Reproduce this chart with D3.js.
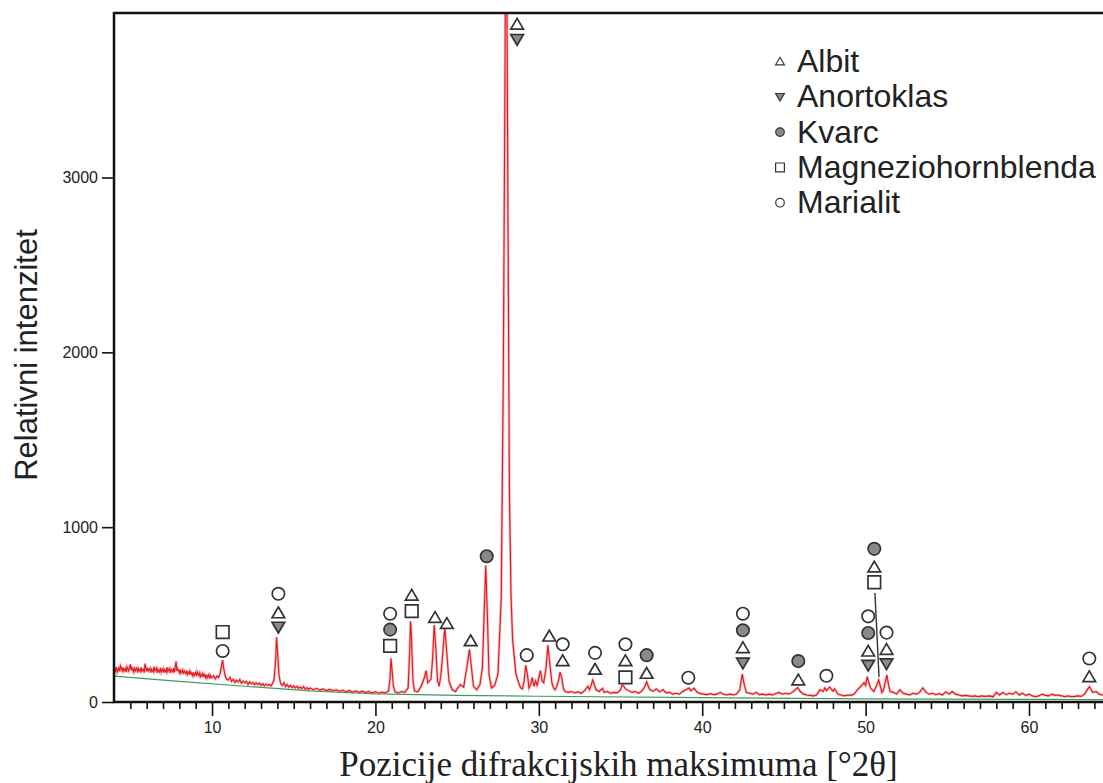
<!DOCTYPE html>
<html><head><meta charset="utf-8">
<script src="https://cdn.jsdelivr.net/npm/d3@7"></script>
<style>body{margin:0;background:#fff}svg{display:block}</style>
</head><body><svg id="c" width="1103" height="783"></svg>
<script>
// ---- data ----
const pattern = [
[4.0,165],[4.05,190],[4.1,178],[4.15,200],[4.2,172],[4.3,195],[4.35,175],[4.4,205],[4.5,180],[4.55,198],[4.6,176],[4.7,192],[4.75,170],[4.8,200],[4.9,178],
[5.0,215],[5.05,182],[5.1,196],[5.2,172],[5.25,200],[5.3,178],[5.4,194],[5.45,168],[5.5,190],[5.6,175],[5.65,198],[5.7,176],[5.8,188],[5.85,168],[5.9,220],
[6.0,175],[6.05,195],[6.1,178],[6.2,192],[6.25,168],[6.3,188],[6.4,172],[6.45,202],[6.5,178],[6.6,194],[6.65,166],[6.7,186],[6.8,170],[6.85,196],[6.9,172],
[7.0,190],[7.05,168],[7.1,185],[7.2,170],[7.25,198],[7.3,175],[7.4,192],[7.45,166],[7.5,185],[7.6,172],[7.65,194],[7.7,170],[7.8,232],[7.85,178],[7.9,190],
[8.0,168],[8.05,186],[8.1,165],[8.2,182],[8.25,160],[8.3,178],[8.4,162],[8.45,180],[8.5,158],[8.6,176],[8.65,155],[8.7,172],[8.8,152],[8.85,170],[8.9,150],
[9.0,168],[9.05,148],[9.1,172],[9.2,150],[9.25,165],[9.3,145],[9.4,162],[9.45,142],[9.5,160],[9.6,140],[9.65,158],[9.7,138],[9.8,156],[9.85,134],[9.9,152],
[10.0,138],[10.1,150],[10.2,132],[10.3,148],[10.4,140],[10.5,165],[10.6,215],[10.65,240],[10.7,200],[10.8,150],
[10.9,130],[11.0,125],[11.1,140],[11.2,118],[11.3,130],[11.4,112],[11.5,125],[11.6,115],[11.7,128],[11.8,108],
[11.9,120],[12.0,110],[12.1,118],[12.2,100],[12.3,115],[12.4,105],[12.5,112],[12.6,98],[12.7,110],[12.8,100],
[12.9,108],[13.0,95],[13.1,105],[13.2,92],[13.3,102],[13.4,95],[13.5,100],[13.6,92],[13.7,105],[13.8,130],
[13.9,250],[13.95,370],[14.0,300],[14.1,150],[14.2,105],[14.3,95],[14.4,110],[14.5,88],[14.6,100],[14.7,85],
[14.8,95],[14.9,82],[15.0,92],[15.1,80],[15.2,90],[15.3,78],[15.4,86],[15.5,76],[15.6,88],[15.7,74],
[15.8,82],[15.9,72],[16.0,80],[16.2,70],[16.4,78],[16.6,68],[16.8,75],[17.0,65],[17.2,72],[17.4,63],
[17.6,70],[17.8,60],[18.0,68],[18.2,58],[18.4,66],[18.6,56],[18.8,64],[19.0,55],[19.2,62],[19.4,54],
[19.6,60],[19.8,52],[20.0,58],[20.2,50],[20.4,56],[20.6,52],[20.8,62],[20.9,140],[20.95,250],[21.0,200],
[21.1,90],[21.2,58],[21.4,52],[21.6,60],[21.8,55],[22.0,80],[22.1,300],[22.15,462],[22.2,380],[22.3,120],
[22.4,62],[22.6,58],[22.8,90],[23.0,140],[23.1,180],[23.2,110],[23.4,130],[23.5,250],[23.6,440],[23.7,300],
[23.8,120],[23.9,90],[24.0,150],[24.1,250],[24.2,380],[24.25,420],[24.35,300],[24.5,120],[24.7,70],[24.9,60],
[25.0,75],[25.2,100],[25.4,85],[25.6,200],[25.75,300],[25.85,220],[26.0,90],[26.2,70],[26.4,100],[26.55,200],
[26.65,500],[26.75,780],[26.85,500],[26.95,160],[27.1,80],[27.3,95],[27.5,160],[27.7,600],[27.82,1800],[27.92,3400],[27.97,4400],
[28.03,4400],[28.1,3000],[28.2,1200],[28.3,600],[28.4,350],[28.6,160],[28.8,100],[28.9,80],[29.0,75],[29.1,120],[29.2,210],
[29.3,160],[29.4,80],[29.5,100],[29.6,140],[29.7,90],[29.8,120],[29.9,95],[30.0,140],[30.1,180],[30.2,120],
[30.3,110],[30.45,200],[30.55,325],[30.65,240],[30.8,110],[30.9,80],[31.0,70],[31.1,90],[31.2,120],[31.3,170],
[31.4,140],[31.5,80],[31.6,60],[31.8,55],[32.0,60],[32.2,52],[32.4,58],[32.6,50],[32.8,65],[33.0,90],
[33.1,70],[33.2,95],[33.3,125],[33.4,100],[33.5,70],[33.7,60],[33.9,78],[34.0,55],[34.2,60],[34.4,50],
[34.6,55],[34.8,52],[35.0,70],[35.1,97],[35.2,90],[35.3,75],[35.5,65],[35.7,55],[35.9,60],[36.1,50],
[36.3,62],[36.5,90],[36.6,115],[36.7,90],[36.8,70],[37.0,62],[37.2,75],[37.4,58],[37.6,70],[37.8,52],
[38.0,55],[38.2,45],[38.4,50],[38.6,45],[38.8,60],[39.0,70],[39.2,80],[39.3,65],[39.5,78],[39.7,55],
[39.9,48],[40.1,45],[40.3,42],[40.5,48],[40.7,42],[40.9,45],[41.1,55],[41.3,45],[41.5,40],[41.7,45],
[41.9,40],[42.1,45],[42.3,70],[42.45,160],[42.55,110],[42.7,55],[42.9,50],[43.1,45],[43.3,55],[43.5,42],
[43.7,45],[43.9,40],[44.1,45],[44.3,40],[44.5,48],[44.7,55],[44.9,45],[45.1,50],[45.3,45],[45.5,55],
[45.7,70],[45.85,82],[46.0,60],[46.2,45],[46.4,40],[46.6,38],[46.8,35],[47.0,40],[47.2,70],[47.4,60],
[47.5,80],[47.6,65],[47.8,85],[48.0,62],[48.1,75],[48.3,45],[48.5,40],[48.7,35],[48.9,40],[49.1,38],
[49.3,45],[49.5,70],[49.7,90],[49.9,110],[50.0,95],[50.1,145],[50.2,110],[50.3,80],[50.5,60],[50.7,100],
[50.8,125],[50.9,90],[51.0,55],[51.1,70],[51.3,155],[51.4,100],[51.5,60],[51.7,55],[51.9,45],[52.1,70],
[52.3,50],[52.5,45],[52.7,40],[52.9,50],[53.1,45],[53.3,55],[53.5,80],[53.7,55],[53.9,45],[54.1,50],
[54.3,42],[54.5,48],[54.7,40],[54.9,58],[55.1,45],[55.3,60],[55.5,45],[55.7,40],[55.9,35],[56.1,38],
[56.3,35],[56.5,32],[56.7,35],[56.9,30],[57.1,35],[57.3,32],[57.6,35],[57.8,30],[58.0,55],[58.2,40],
[58.4,55],[58.6,42],[58.8,50],[59.0,45],[59.2,58],[59.4,40],[59.6,50],[59.8,38],[60.0,45],[60.2,35],
[60.4,30],[60.6,35],[60.8,45],[61.0,38],[61.2,35],[61.4,45],[61.6,38],[61.8,40],[62.0,35],[62.2,30],
[62.4,35],[62.6,30],[62.8,32],[63.0,35],[63.2,32],[63.4,45],[63.6,75],[63.7,87],[63.8,70],[63.9,55],
[64.1,60],[64.3,45],[64.5,40],[64.7,38],[65.0,35]
];
const background = [[4,148],[8,118],[12,90],[16,64],[20,47],[25,38],[30,33],[40,25],[50,18],[60,15],[65,14]];

const albit = [[14.06,509],[22.22,610],[23.65,483],[24.37,448],[25.83,349],[28.67,3876],[30.64,376],[31.46,235],[33.44,186],[35.3,235],[36.6,163],[42.49,310],[45.88,125],[50.16,290],[50.53,771],[51.28,300],[63.69,144]];
const anortoklas = [[14.06,429],[28.67,3791],[42.49,224],[50.16,211],[51.28,220]];
const kvarc = [[20.9,414],[26.81,834],[36.6,268],[42.49,410],[45.88,234],[50.16,395],[50.53,876]];
const magneziohornblenda = [[10.65,400],[20.9,321],[22.22,520],[35.3,141],[50.53,685]];
const marialit = [[10.65,292],[14.06,619],[20.9,505],[29.26,268],[31.46,330],[33.44,281],[35.3,330],[39.15,139],[42.49,505],[47.6,150],[50.16,490],[51.28,397],[63.69,249]];
const leader = [[50.57,623],[50.82,144]];

const legendNames = ["Albit","Anortoklas","Kvarc","Magneziohornblenda","Marialit"];
const legendShapes = ["up","down","dot","square","circle"];
const xTicks = [10,20,30,40,50,60];
const yTicks = [0,1000,2000,3000];
const xLabel = "Pozicije difrakcijskih maksimuma [°2θ]";
const yLabel = "Relativni intenzitet";

// ---- layout ----
const svg = d3.select("#c");
const L = 114, R = 1110.7, T = 13, B = 702;
const x = d3.scaleLinear().domain([4,65]).range([L,R]);
const y = d3.scaleLinear().domain([0,3941]).range([B,T]);

svg.append("clipPath").attr("id","clip").append("rect")
  .attr("x",L).attr("y",T).attr("width",R-L).attr("height",B-T);

const line = d3.line().x(d=>x(d[0])).y(d=>y(d[1]));
const g = svg.append("g").attr("clip-path","url(#clip)");
g.append("path").datum(background).attr("d",line)
  .attr("fill","none").attr("stroke","#3a9e62").attr("stroke-width",1.2);
g.append("path").datum(pattern).attr("d",line)
  .attr("fill","none").attr("stroke","#ee7b7b").attr("stroke-width",2.6).attr("stroke-opacity",0.55);
g.append("path").datum(pattern).attr("d",line)
  .attr("fill","none").attr("stroke","#e3161b").attr("stroke-width",1.1);

// axes
const minor = d3.range(5,65,1).filter(v=>v%10!==0);
const xa = svg.append("g").attr("transform",`translate(0,${B})`);
xa.call(d3.axisBottom(x).tickValues(minor).tickSize(7).tickFormat(""));
const xa2 = svg.append("g").attr("transform",`translate(0,${B})`);
xa2.call(d3.axisBottom(x).tickValues(xTicks).tickSize(14).tickPadding(6).tickFormat(d3.format("d")));
const ya = svg.append("g").attr("transform",`translate(${L},0)`);
ya.call(d3.axisLeft(y).tickValues(yTicks).tickSize(12).tickPadding(4).tickFormat(d3.format("d")));
[xa,xa2,ya].forEach(a=>{
  a.select(".domain").remove();
  a.selectAll("line").attr("stroke","#111").attr("stroke-width",1.6);
  a.selectAll("text").attr("font-family","Liberation Sans, Arial, sans-serif").attr("font-size",16).attr("fill","#222");
});
// frame
svg.append("rect").attr("x",L).attr("y",T).attr("width",R-L+20).attr("height",B-T)
  .attr("fill","none").attr("stroke","#111").attr("stroke-width",2.5);

// markers
function sym(type, s){
  if(type==="up") return `M0,${-s*0.95}L${s},${s*0.75}L${-s},${s*0.75}Z`;
  if(type==="down") return `M0,${s*0.95}L${s},${-s*0.75}L${-s},${-s*0.75}Z`;
  return `M${-s},${-s}H${s}V${s}H${-s}Z`;
}
const mk = svg.append("g");
function drawSet(data, type){
  data.forEach(d=>{
    const cx = x(d[0]), cy = y(d[1]);
    let el;
    if(type==="circle"||type==="dot"){
      el = mk.append("circle").attr("cx",cx).attr("cy",cy).attr("r",6.2);
    } else {
      el = mk.append("path").attr("d",sym(type,6.3)).attr("transform",`translate(${cx},${cy})`);
    }
    el.attr("fill",(type==="dot"||type==="down")?"#8a8a8a":"#fff").attr("stroke","#333").attr("stroke-width",1.7);
  });
}
mk.append("path").datum(leader).attr("d",line).attr("stroke","#333").attr("stroke-width",1.4).attr("fill","none");
drawSet(albit,"up");
drawSet(anortoklas,"down");
drawSet(kvarc,"dot");
drawSet(magneziohornblenda,"square");
drawSet(marialit,"circle");

// legend
const lg = svg.append("g");
legendNames.forEach((n,i)=>{
  const by = 72 + i*35.3;
  const cy = by - 10.5;
  const t = legendShapes[i];
  let el;
  if(t==="circle"||t==="dot") el = lg.append("circle").attr("cx",780).attr("cy",cy).attr("r",4.3);
  else el = lg.append("path").attr("d",sym(t,4.4)).attr("transform",`translate(780,${cy})`);
  el.attr("fill",(t==="dot"||t==="down")?"#8a8a8a":"#fff").attr("stroke","#333").attr("stroke-width",1.2);
  lg.append("text").attr("x",797).attr("y",by).text(n)
    .attr("font-family","Liberation Sans, Arial, sans-serif").attr("font-size",32).attr("fill","#222");
});

// axis titles
svg.append("text").attr("x",(L+1103)/2+10).attr("y",776).attr("text-anchor","middle")
  .attr("font-family","Liberation Serif, Times New Roman, serif").attr("font-size",35).attr("fill","#222").text(xLabel);
svg.append("text").attr("transform","translate(37,355) rotate(-90)").attr("text-anchor","middle")
  .attr("font-family","Liberation Sans, Arial, sans-serif").attr("font-size",31).attr("fill","#222").text(yLabel);
</script></body></html>
